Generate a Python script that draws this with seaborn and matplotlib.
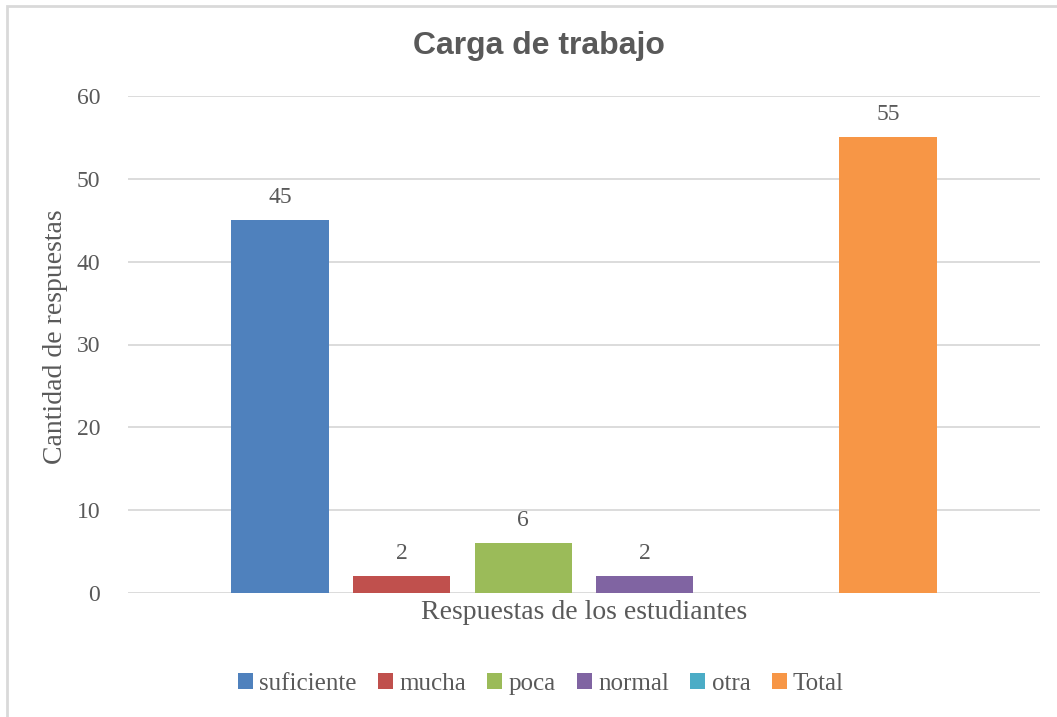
import pandas as pd
import matplotlib.pyplot as plt
import seaborn as sns
from matplotlib.patches import Rectangle

# --- Datos ---
categoria = ['Respuestas de los estudiantes']
series = ['suficiente', 'mucha', 'poca', 'normal', 'otra', 'Total']
valores = [45, 2, 6, 2, 0, 55]
colores = ['#4F81BD', '#C0504D', '#9BBB59', '#8064A2', '#4BACC6', '#F79646']

df = pd.DataFrame({'categoria': categoria * len(series), 'serie': series, 'valor': valores})

# --- Estilo ---
sns.set_style('white')
plt.rcParams['font.family'] = ['Liberation Serif', 'DejaVu Serif']
gris = '#595959'

fig = plt.figure(figsize=(10.57, 7.17), dpi=100)
ax = fig.add_axes([128 / 1057, 1 - 593 / 717, (1040 - 128) / 1057, (593 - 96) / 717])

sns.barplot(data=df, x='categoria', y='valor', hue='serie', palette=colores,
            width=0.8, gap=0.2, saturation=1, linewidth=0, edgecolor='none',
            ax=ax, legend=True)

# etiquetas de datos (sin la barra vacía)
for cont in ax.containers:
    etiquetas = [f'{int(v)}' if v > 0 else '' for v in cont.datavalues]
    ax.bar_label(cont, labels=etiquetas, padding=9, fontsize=17, color=gris)

ax.set_ylim(0, 60)
ax.set_xlim(-0.5, 0.5)
ax.set_yticks(range(0, 61, 10))
ax.yaxis.grid(True, color='#D9D9D9', linewidth=1.3)
ax.set_axisbelow(True)
for s in ax.spines.values():
    s.set_visible(False)
ax.tick_params(axis='y', length=0, pad=20, labelsize=17, labelcolor=gris)
ax.tick_params(axis='x', length=0, pad=5, labelsize=20, labelcolor=gris)
ax.set_xlabel('')
ax.set_ylabel('Cantidad de respuestas', fontsize=20, color=gris)
ax.yaxis.set_label_coords(-0.066, 0.515)

fig.text(539 / 1057, 1 - 46 / 717, 'Carga de trabajo', ha='center', va='center',
         fontsize=23, fontweight='bold', color=gris, family=['Liberation Sans', 'DejaVu Sans'])

handles, labels = ax.get_legend_handles_labels()
ax.legend(handles, labels, loc='center', bbox_to_anchor=(541 / 1057, 1 - 684 / 717),
          bbox_transform=fig.transFigure, ncol=6, frameon=False, fontsize=18,
          handlelength=0.6, handleheight=0.6, handletextpad=0.25, columnspacing=0.85,
          labelcolor=gris)

# marco exterior del gráfico
fig.patches.append(Rectangle((7 / 1057, -0.1), 1.2, 1 - 6 / 717 + 0.1, transform=fig.transFigure,
                             fill=False, edgecolor='#D9D9D9', linewidth=2))

fig.savefig('out.png', dpi=100)
